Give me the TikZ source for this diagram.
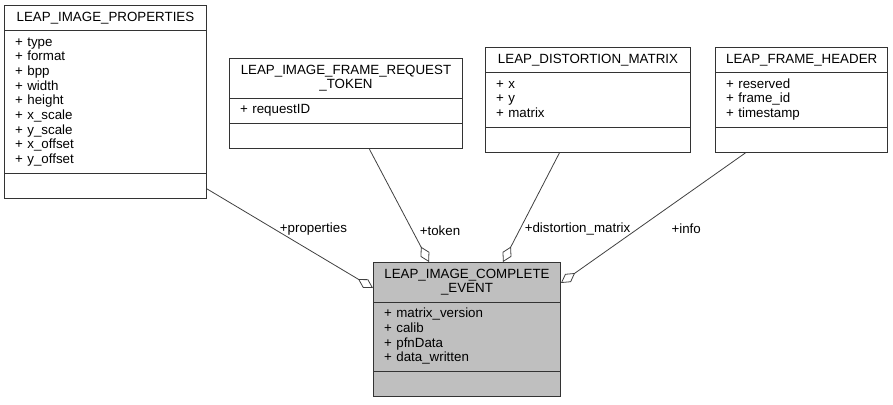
\documentclass[tikz,border=0pt]{standalone}
\usepackage{fontspec}
\setmainfont{Liberation Sans}
\usetikzlibrary{arrows.meta}
\usetikzlibrary{shapes.multipart}

\begin{document}
\begin{tikzpicture}[x = 0.75pt, y = -0.75pt]
\tikzset{
   >={Diamond[open, length = 13pt, width = 7.5pt]},
   class/.style = {rectangle split, rectangle split parts = 3, draw = black!80, line width = 0.7pt, fill = white,
                   font = \fontsize{10}{11}\selectfont, inner xsep = 8pt, inner ysep = 3.6pt,
                   text width = #1, align = left, every text node part/.style = {align = center},
                   execute at begin node = \strut, execute at end node = \strut, anchor = north west},
   member/.style = {->, draw = black!75, line width = 0.6pt},
   role/.style = {right, text = black, font = \fontsize{10}{11}\selectfont}
}
  \useasboundingbox (0,0) rectangle (893,404);

  \node [class = 135.5pt] (props) at (4,5) {LEAP\_IMAGE\_PROPERTIES%
        \nodepart{two} + type\\ + format\\ + bpp\\ + width\\ + height\\ + x\_scale\\ + y\_scale\\ + x\_offset\\ + y\_offset%
        \nodepart{three} };
  \node [class = 158.75pt] (token) at (229,58) {LEAP\_IMAGE\_FRAME\_REQUEST\\\_TOKEN%
        \nodepart{two} + requestID%
        \nodepart{three} };
  \node [class = 137.75pt] (dist) at (485,47) {LEAP\_DISTORTION\_MATRIX%
        \nodepart{two} + x\\ + y\\ + matrix%
        \nodepart{three} };
  \node [class = 113pt] (header) at (715,47) {LEAP\_FRAME\_HEADER%
        \nodepart{two} + reserved\\ + frame\_id\\ + timestamp%
        \nodepart{three} };
  \node [class = 124.25pt, fill = black!25] (event) at (373,262) {LEAP\_IMAGE\_COMPLETE\\\_EVENT%
        \nodepart{two} + matrix\_version\\ + calib\\ + pfnData\\ + data\_written%
        \nodepart{three} };

  % aggregations into the complete event
  \draw [member] ([yshift = 7.5pt]props.south east) -- node [role, pos = 0.41] {+properties} ([yshift = -19.5pt]event.north west);
  \draw [member] ([xshift = 17.6pt]token.south) -- node [role, pos = 0.72, xshift = 2pt] {+token} ([xshift = 42pt]event.north west);
  \draw [member] ([xshift = -21.4pt]dist.south) -- node [role, pos = 0.7] {+distortion\_matrix} ([xshift = 97.5pt]event.north west);
  \draw [member] ([xshift = -42pt]header.south) -- node [role, pos = 0.586, xshift = 22pt] {+info} ([yshift = -15.75pt]event.north east);

\end{tikzpicture}
\end{document}
